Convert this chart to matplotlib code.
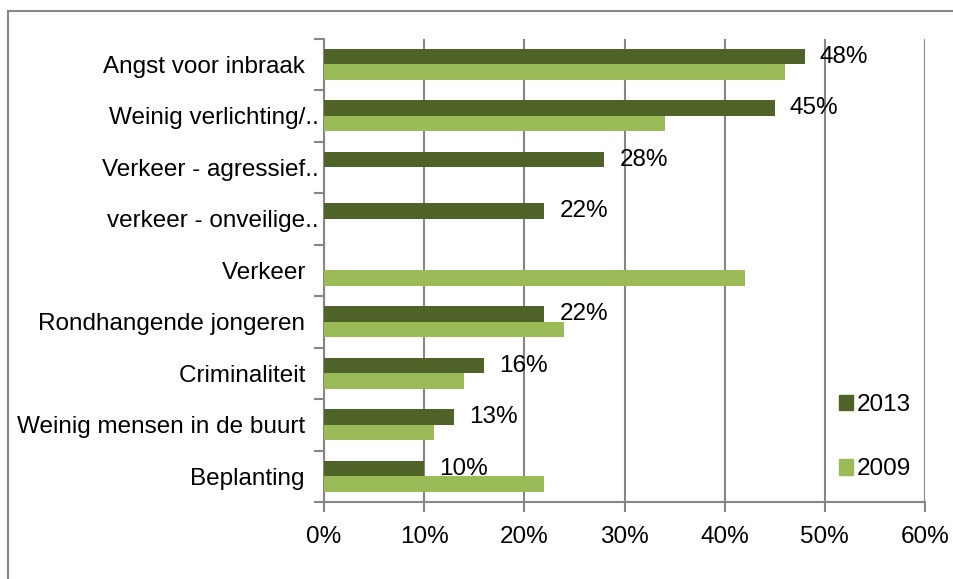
import matplotlib.pyplot as plt
import numpy as np
from matplotlib.patches import Rectangle, Patch

plt.rcParams['font.family'] = ['Liberation Sans', 'DejaVu Sans']

# categories from top to bottom
categories = ['Angst voor inbraak  ', 'Weinig verlichting/..', 'Verkeer - agressief..',
              'verkeer - onveilige..', 'Verkeer  ', 'Rondhangende jongeren  ',
              'Criminaliteit  ', 'Weinig mensen in de buurt  ', 'Beplanting  ']
vals_2013 = [48, 45, 28, 22, np.nan, 22, 16, 13, 10]
vals_2009 = [46, 34, np.nan, np.nan, 42, 24, 14, 11, 22]
xticks = [0, 10, 20, 30, 40, 50, 60]

dark = '#4F6228'
light = '#9BBB59'
gray = '#868686'
fs = 17.5

fig = plt.figure(figsize=(9.54, 5.79), dpi=100)
ax = fig.add_axes([324 / 954, 1 - 502 / 579, 601 / 954, (502 - 38.7) / 579])

# chart frame (partly cut off like the original)
fig.patches.append(Rectangle((8 / 954, -0.2), 1.5, 1 - 11 / 579 + 0.2,
                             transform=fig.transFigure, fill=False,
                             edgecolor=gray, linewidth=1.5))

y = np.arange(len(categories))
h = 0.3
ax.barh(y - h / 2, vals_2013, height=h, color=dark, label='2013', zorder=3)
ax.barh(y + h / 2, vals_2009, height=h, color=light, label='2009', zorder=3)

for yi, v in zip(y, vals_2013):
    if not np.isnan(v):
        ax.text(v + 1.5, yi - h / 2, f'{v:.0f}%', fontsize=fs, va='center',
                ha='left', zorder=4)

ax.set_xlim(0, 60)
ax.set_ylim(len(categories) - 0.5, -0.5)
ax.set_xticks(xticks)
ax.set_xticklabels([f'{t}%' for t in xticks], fontsize=fs)
ax.grid(axis='x', color=gray, linewidth=1.5, zorder=0)

# category boundaries as major ticks, labels on minor ticks
ax.set_yticks(np.arange(-0.5, len(categories), 1))
ax.set_yticklabels([])
ax.set_yticks(y, minor=True)
ax.set_yticklabels(categories, minor=True, fontsize=fs)
ax.tick_params(axis='y', which='minor', length=0, pad=4)
ax.tick_params(axis='y', which='major', length=7, width=1.5, color=gray)
ax.tick_params(axis='x', length=7, width=1.5, color=gray, pad=10)

for s in ['top', 'right']:
    ax.spines[s].set_visible(False)
for s in ['left', 'bottom']:
    ax.spines[s].set_color(gray)
    ax.spines[s].set_linewidth(1.5)

handles = [Patch(color=dark, label='2013'), Patch(color=light, label='2009')]
fig.legend(handles=handles, loc='upper left', bbox_to_anchor=(817 / 954, 1 - 372 / 579),
           frameon=False, fontsize=fs, handlelength=0.6, handleheight=0.6,
           handletextpad=0.15, labelspacing=1.75)

fig.savefig('out.png', dpi=100)
